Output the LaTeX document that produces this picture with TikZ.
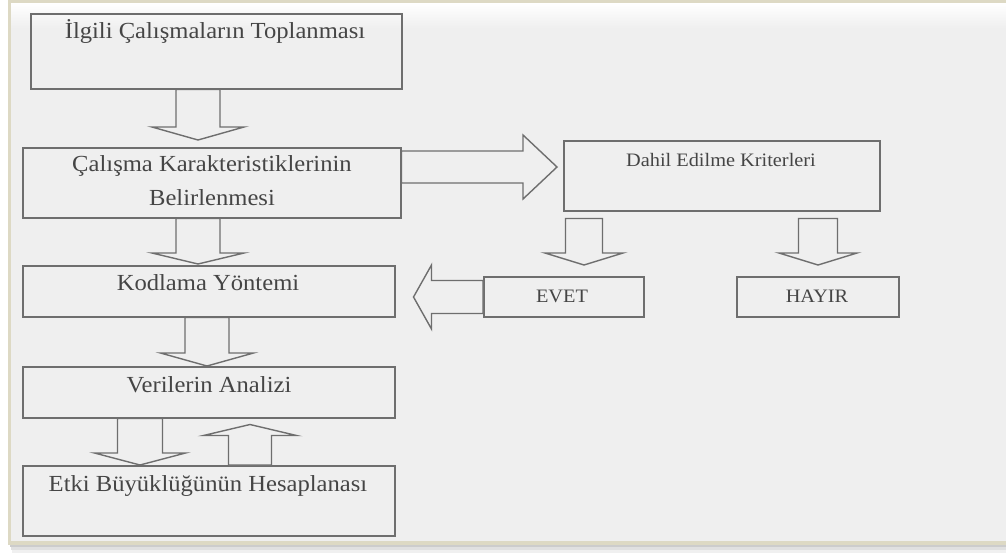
\documentclass[tikz,border=0pt]{standalone}
\usepackage{fontspec}
\setmainfont{Liberation Serif}[FakeStretch=1.07]
\usetikzlibrary{calc}
\definecolor{bgc}{HTML}{EFEFEF}
\definecolor{beige}{HTML}{DDD9C4}
\definecolor{linec}{HTML}{6E6E6E}
\definecolor{txtc}{HTML}{454545}
\tikzset{
  box/.style={draw=linec, line width=1.5pt, rectangle, inner sep=0pt, anchor=north west},
  blk/.style={draw=linec, line width=1.4pt, fill=bgc, line join=miter},
  bigtxt/.style={text=txtc, font=\fontsize{23}{34}\selectfont, anchor=base, inner sep=0pt, align=center},
  smalltxt/.style={text=txtc, font=\fontsize{19}{24}\selectfont, anchor=base, inner sep=0pt}
}
\newcommand{\blkarrow}[5]{%
  \coordinate (ba-h) at ($(#2)!#5!(#1)$);
  \draw[blk] ($(#1)!#3!90:(#2)$) -- ($(ba-h)!#3!90:(#2)$) -- ($(ba-h)!#4!90:(#2)$)
    -- (#2) -- ($(ba-h)!#4!-90:(#2)$) -- ($(ba-h)!#3!-90:(#2)$) -- ($(#1)!#3!-90:(#2)$) -- cycle;
}
\begin{document}
\begin{tikzpicture}[x=1pt,y=-1pt]
\useasboundingbox (0,0) rectangle (1006,554);
% background panel
\fill[white] (0,0) rectangle (1006,554);
\fill[black!6] (12,543) rectangle (1006,553);
\fill[black!12] (11,543) rectangle (1006,550);
\fill[black!20] (10,543) rectangle (1006,547);
\fill[beige] (8,0) rectangle (1010,545);
\fill[bgc] (11,3) rectangle (1010,541);
\shade[top color=white, bottom color=bgc] (11,3) rectangle (1010,28);

% boxes
\node[box, minimum width=371, minimum height=75] (b1) at (30,13) {};
\node[box, minimum width=378, minimum height=70] (b2) at (22,147) {};
\node[box, minimum width=372, minimum height=51] (b3) at (22,265) {};
\node[box, minimum width=372, minimum height=51] (b4) at (22,366) {};
\node[box, minimum width=372, minimum height=70] (b5) at (22,465) {};
\node[box, minimum width=316, minimum height=70] (bd) at (563,140) {};
\node[box, minimum width=160, minimum height=40] (be) at (483,276) {};
\node[box, minimum width=162, minimum height=40] (bh) at (736,276) {};

% texts
\node[bigtxt] (t1) at (215,38) {İlgili Çalışmaların Toplanması};
\node[bigtxt] (t2a) at (212,171) {Çalışma Karakteristiklerinin};
\node[bigtxt] (t2b) at (212,205) {Belirlenmesi};
\node[bigtxt] (t3) at (208,290) {Kodlama Yöntemi};
\node[bigtxt] (t4) at (209,392) {Verilerin Analizi};
\node[bigtxt] (t5) at (208,491) {Etki Büyüklüğünün Hesaplanası};
\node[smalltxt] (td) at (721,166) {Dahil Edilme Kriterleri};
\node[smalltxt] (te) at (562,302) {EVET};
\node[smalltxt] (th) at (817,302) {HAYIR};

% arrow anchor coordinates
\coordinate (a1s) at ($(b1.south west)+(168,0)$);
\coordinate (a1e) at ($(b2.north west)+(176,-7)$);
\coordinate (a2s) at ($(b2.south west)+(176,0)$);
\coordinate (a2e) at ($(b3.north west)+(176,-1)$);
\coordinate (a3s) at ($(b3.south west)+(185,0)$);
\coordinate (a3e) at ($(b4.north west)+(185,0)$);
\coordinate (a4s) at ($(b4.south west)+(118,0)$);
\coordinate (a4e) at ($(b5.north west)+(118,0)$);
\coordinate (a5s) at ($(b5.north west)+(228,0)$);
\coordinate (a5e) at ($(b4.south west)+(228,6)$);
\coordinate (ars) at ($(b2.north east)+(0,20)$);
\coordinate (are) at ($(bd.north west)+(-6,27)$);
\coordinate (aes) at ($(bd.south west)+(21,7)$);
\coordinate (aee) at ($(be.north west)+(101,-11)$);
\coordinate (ahs) at ($(bd.south west)+(255,7)$);
\coordinate (ahe) at ($(bh.north west)+(82,-11)$);
\coordinate (als) at ($(be.north west)+(0,21)$);
\coordinate (ale) at ($(b3.north east)+(18,32)$);

% block arrows
\blkarrow{a1s}{a1e}{22pt}{46pt}{13pt}
\blkarrow{a2s}{a2e}{22pt}{46pt}{11pt}
\blkarrow{a3s}{a3e}{22pt}{46.5pt}{13pt}
\blkarrow{a4s}{a4e}{22.5pt}{45.5pt}{12pt}
\blkarrow{a5s}{a5e}{21.5pt}{46.5pt}{11pt}
\blkarrow{ars}{are}{16pt}{32pt}{34pt}
\blkarrow{aes}{aee}{18.5pt}{39pt}{12pt}
\blkarrow{ahs}{ahe}{19.5pt}{39pt}{12pt}
\blkarrow{als}{ale}{16.5pt}{32pt}{18pt}
\end{tikzpicture}
\end{document}
